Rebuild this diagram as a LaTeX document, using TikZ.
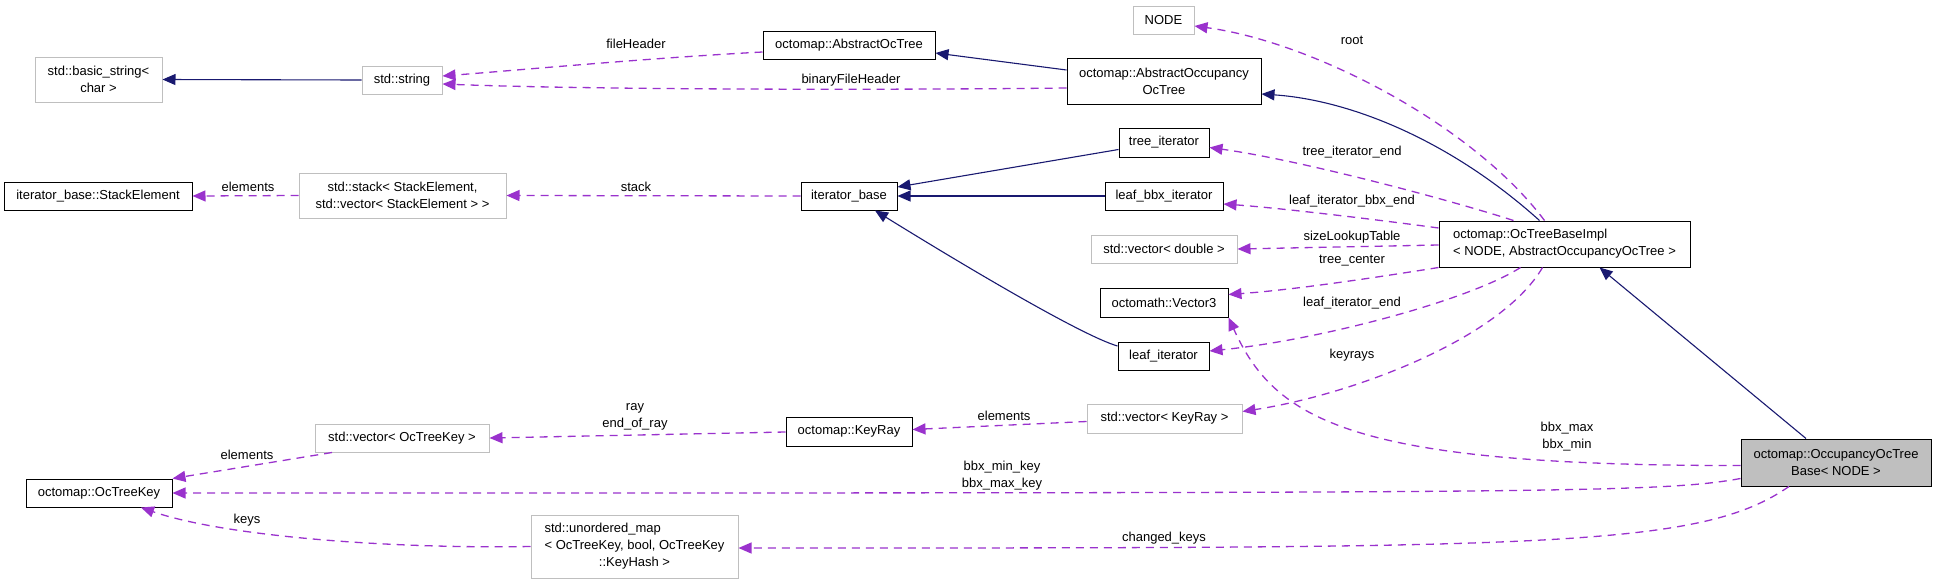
\documentclass[tikz,border=0pt]{standalone}
\usepackage{fontspec}
\setmainfont{Liberation Sans}
\usetikzlibrary{arrows.meta}
\definecolor{inhblue}{HTML}{191970}
\definecolor{usepurple}{HTML}{9A32CD}
\definecolor{extgray}{HTML}{BFBFBF}

\begin{document}
\begin{tikzpicture}[x=1pt,y=-1pt,
  every node/.style={font=\fontsize{13}{17}\selectfont,inner sep=0pt},
  cls/.style={draw=black,fill=white,line width=1pt,minimum height=28pt},
  ext/.style={draw=extgray,fill=white,line width=1pt,minimum height=28pt},
  inherit/.style={draw=inhblue,line width=1.1pt,-{Triangle[length=13pt,width=11pt]}},
  member/.style={draw=usepurple,line width=1.3pt,dash pattern=on 8pt off 6pt,-{Triangle[length=13pt,width=11pt]}},
  lbl/.style={align=center}]
  \useasboundingbox (0,0) rectangle (1936,584);

  % classes
  \node[ext,minimum width=61pt] (nodet) at (1163.5,20) {NODE};
  \node[ext,minimum width=127pt,minimum height=45pt,align=center] (bstr) at (98.5,79.5) {std::basic\_string<\\char >};
  \node[ext,minimum width=80pt] (str) at (402,80) {std::string};
  \node[cls,minimum width=172pt] (aot) at (849,45) {octomap::AbstractOcTree};
  \node[cls,minimum width=194pt,minimum height=46pt,align=center] (aocc) at (1164,81) {octomap::AbstractOccupancy\\OcTree};
  \node[cls,minimum width=188pt] (se) at (98,196) {iterator\_base::StackElement};
  \node[ext,minimum width=207pt,minimum height=45pt,align=center] (stk) at (402.5,195.5) {std::stack< StackElement,\\ std::vector< StackElement > >};
  \node[cls,minimum width=96pt] (itb) at (849,196) {iterator\_base};
  \node[cls,minimum width=90pt,minimum height=29pt] (tree) at (1164,142.5) {tree\_iterator};
  \node[cls,minimum width=118pt] (lbbx) at (1164,196) {leaf\_bbx\_iterator};
  \node[cls,minimum width=251pt,minimum height=46pt,align=left] (otbi) at (1564.5,244) {octomap::OcTreeBaseImpl\\< NODE, AbstractOccupancyOcTree >};
  \node[ext,minimum width=146pt] (vd) at (1164,249) {std::vector< double >};
  \node[cls,minimum width=128pt,minimum height=29pt] (vec3) at (1164,302.5) {octomath::Vector3};
  \node[cls,minimum width=91pt] (leaf) at (1163.5,356) {leaf\_iterator};
  \node[ext,minimum width=155pt,minimum height=29pt] (vkr) at (1164.5,418.5) {std::vector< KeyRay >};
  \node[cls,minimum width=126pt,minimum height=29pt] (kr) at (849,431.5) {octomap::KeyRay};
  \node[ext,minimum width=174pt] (vok) at (402,438) {std::vector< OcTreeKey >};
  \node[cls,minimum width=146pt] (otk) at (99,493) {octomap::OcTreeKey};
  \node[ext,minimum width=207pt,minimum height=63pt] (umap) at (634.5,546.5) {\begin{tabular}{@{}l@{}}std::unordered\_map\\< OcTreeKey, bool, OcTreeKey\\\multicolumn{1}{@{}c@{}}{::KeyHash >}\end{tabular}};
  \node[cls,fill=extgray,minimum width=190pt,minimum height=47pt,align=center] (oob) at (1836,462.5) {octomap::OccupancyOcTree\\Base< NODE >};

  % inheritance
  \draw[inherit] (str.west) -- (bstr.east);
  \draw[inherit] ([yshift=11pt]aocc.west) -- ([yshift=-8pt]aot.east);
  \draw[inherit] ([xshift=-25pt]otbi.north) .. controls (1450,140) and (1350,100) .. ([yshift=-13pt]aocc.east);
  \draw[inherit] ([yshift=-7pt]tree.west) -- ([yshift=9pt]itb.east);
  \draw[inherit] (lbbx.west) -- (itb.east);
  \draw[inherit] ([yshift=10pt]leaf.west) .. controls (1080,335) and (955,260) .. ([xshift=26pt]itb.south);
  \draw[inherit] ([xshift=-30pt]oob.north) -- ([xshift=35pt]otbi.south);

  % members
  \draw[member] ([yshift=-7pt]aot.west) .. controls (650,58) and (520,70) .. ([yshift=4pt]str.east);
  \draw[member] ([yshift=-7pt]aocc.west) .. controls (900,90) and (600,90) .. ([yshift=-4pt]str.east);
  \draw[member] ([xshift=-20pt]otbi.north) .. controls (1473,125) and (1313,42) .. ([yshift=-6pt]nodet.east);
  \draw[member] ([xshift=-51pt]otbi.north) .. controls (1450,200) and (1300,160) .. ([yshift=-5pt]tree.east);
  \draw[member] ([yshift=16pt]otbi.west) .. controls (1380,220) and (1280,208) .. ([yshift=-8pt]lbbx.east);
  \draw[member] ([yshift=-1pt]otbi.west) -- (vd.east);
  \draw[member] (otbi.south west) .. controls (1360,280) and (1290,290) .. ([yshift=8pt]vec3.east);
  \draw[member] ([xshift=-44pt]otbi.south) .. controls (1470,300) and (1320,340) .. ([yshift=5pt]leaf.east);
  \draw[member] ([xshift=-22pt]otbi.south) .. controls (1500,340) and (1350,395) .. ([yshift=7pt]vkr.east);
  \draw[member] ([yshift=-3pt]oob.west) .. controls (1350,466) and (1275,420) .. (vec3.south east);
  \draw[member] ([yshift=-0.5pt]kr.west) -- (vok.east);
  \draw[member] ([yshift=-3pt]vkr.west) -- ([yshift=2pt]kr.east);
  \draw[member] ([xshift=-70pt]vok.south) -- (otk.north east);
  \draw[member] ([yshift=-16pt]oob.west) .. controls (1660,493) and (1560,493) .. (otk.east);
  \draw[member] (umap.west) .. controls (380,549) and (220,535) .. ([xshift=42pt]otk.south);
  \draw[member] ([xshift=-47pt]oob.south) .. controls (1700,548) and (1550,548) .. ([yshift=-1.5pt]umap.east);
  \draw[member] (stk.west) -- (se.east);
  \draw[member] (itb.west) -- (stk.east);

  % edge labels
  \foreach \n/\x/\y/\t in {lfh/636/44/fileHeader, lbfh/851/80/binaryFileHeader, lroot/1352/40/root,
      ltie/1352/152/tree\_iterator\_end, llibe/1352/201/leaf\_iterator\_bbx\_end,
      lslt/1352/237/sizeLookupTable, ltc/1352/261/tree\_center, llie/1352/303/leaf\_iterator\_end,
      lkr/1352/355/keyrays, lbbx/1567/436.5/{bbx\_max\\bbx\_min}, lray/635/416.5/{ray\\end\_of\_ray},
      lel1/1004/416/elements, lel2/248/187/elements, lstk/636/187/stack, lel3/247/455/elements,
      lkey/1002/475.5/{bbx\_min\_key\\bbx\_max\_key}, lkeys/247/520/keys, lck/1164/538/changed\_keys}
    \node[lbl] (\n) at (\x,\y) {\t};
\end{tikzpicture}
\end{document}
